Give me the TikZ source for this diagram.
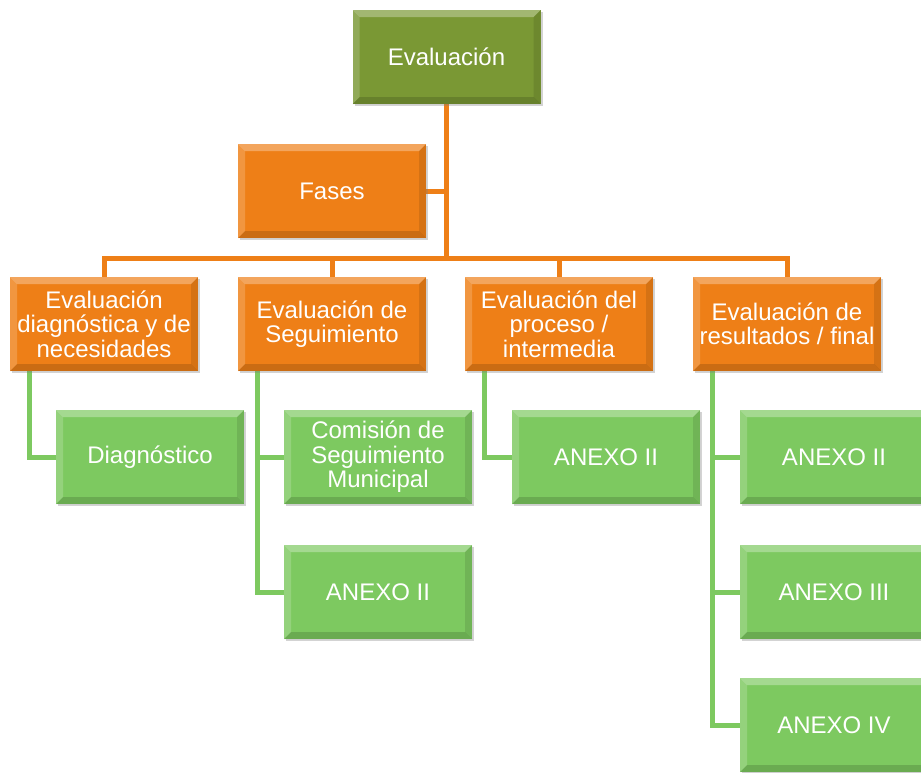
\documentclass[tikz,border=0pt]{standalone}
\usepackage{fontspec}
\setmainfont{Liberation Sans}
\usetikzlibrary{shadows,backgrounds}
\definecolor{olive}{RGB}{122,152,52}
\definecolor{orng}{RGB}{238,127,23}
\definecolor{grn}{RGB}{125,201,96}
\tikzset{
  box/.style={minimum width=188pt, minimum height=94pt, inner sep=1pt, align=center,
    text=white, font=\fontsize{24}{24.5}\selectfont,
    drop shadow={opacity=0.35, shadow xshift=2pt, shadow yshift=-2pt},
    path picture={
      \fill[white,opacity=0.3] (path picture bounding box.north west) -- (path picture bounding box.north east) -- ([xshift=-7pt,yshift=-7pt]path picture bounding box.north east) -- ([xshift=7pt,yshift=-7pt]path picture bounding box.north west) -- cycle;
      \fill[white,opacity=0.18] (path picture bounding box.north west) -- ([xshift=7pt,yshift=-7pt]path picture bounding box.north west) -- ([xshift=7pt,yshift=7pt]path picture bounding box.south west) -- (path picture bounding box.south west) -- cycle;
      \fill[black,opacity=0.15] (path picture bounding box.south west) -- (path picture bounding box.south east) -- ([xshift=-7pt,yshift=7pt]path picture bounding box.south east) -- ([xshift=7pt,yshift=7pt]path picture bounding box.south west) -- cycle;
      \fill[black,opacity=0.1] (path picture bounding box.north east) -- ([xshift=-7pt,yshift=-7pt]path picture bounding box.north east) -- ([xshift=-7pt,yshift=7pt]path picture bounding box.south east) -- (path picture bounding box.south east) -- cycle;
    }},
  topbox/.style={box, fill=olive},
  orbox/.style={box, fill=orng},
  grbox/.style={box, fill=grn},
  orline/.style={draw=orng, line width=5pt, line join=miter},
  grline/.style={draw=grn, line width=5pt, line join=miter}
}
\begin{document}
\begin{tikzpicture}[x=1pt,y=-1pt]
\useasboundingbox (0,0) rectangle (921,772);
\node[topbox] (eval) at (446.5,57) {Evaluación};
\node[orbox] (fases) at (332,191) {Fases};
\node[orbox] (o1) at (104,324) {Evaluación\\diagnóstica y de\\necesidades};
\node[orbox] (o2) at (332,324) {Evaluación de\\Seguimiento};
\node[orbox] (o3) at (559,324) {Evaluación del\\proceso /\\intermedia};
\node[orbox] (o4) at (787,324) {Evaluación de\\resultados / final};
\node[grbox] (g1) at (150,457) {Diagnóstico};
\node[grbox] (g2a) at (378,457) {Comisión de\\Seguimiento\\Municipal};
\node[grbox] (g2b) at (378,592) {ANEXO II};
\node[grbox] (g3) at (606,457) {ANEXO II};
\node[grbox] (g4a) at (834,457) {ANEXO II};
\node[grbox] (g4b) at (834,592) {ANEXO III};
\node[grbox] (g4c) at (834,725) {ANEXO IV};
\begin{scope}[on background layer]
\draw[orline] (eval.south) -- ++(0,154) coordinate (bus);
\draw[orline] (fases.east) -- (fases.east -| eval.south);
\draw[orline] (bus) -| (o1.north);
\draw[orline] (bus) -| (o2.north);
\draw[orline] (bus) -| (o3.north);
\draw[orline] (bus) -| (o4.north);
\draw[grline] ([xshift=20pt]o1.south west) |- (g1.west);
\draw[grline] ([xshift=20pt]o2.south west) |- (g2a.west);
\draw[grline] ([xshift=20pt]o2.south west) |- (g2b.west);
\draw[grline] ([xshift=20pt]o3.south west) |- (g3.west);
\draw[grline] ([xshift=20pt]o4.south west) |- (g4a.west);
\draw[grline] ([xshift=20pt]o4.south west) |- (g4b.west);
\draw[grline] ([xshift=20pt]o4.south west) |- (g4c.west);
\end{scope}
\end{tikzpicture}
\end{document}
